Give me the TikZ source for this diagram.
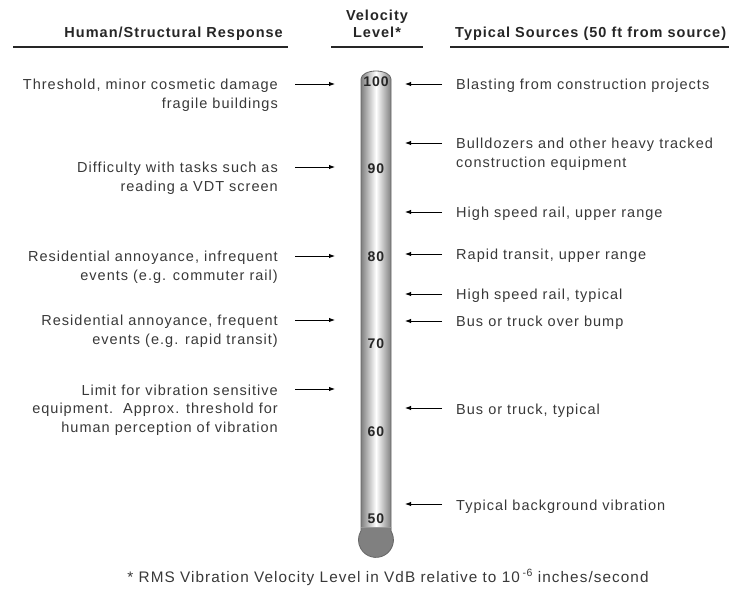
\documentclass[tikz,border=0pt]{standalone}
\usepackage{fontspec}
\setmainfont[LetterSpace=7]{Liberation Sans}
\usetikzlibrary{arrows.meta}

\tikzset{
    bodytext/.style={text=black!78, inner sep=0pt, font=\fontsize{14.5}{18.5}\selectfont},
    lefttext/.style={bodytext, anchor=base east, align=right},
    righttext/.style={bodytext, anchor=base west, align=left},
    headtext/.style={inner sep=0pt, text=black!85, font=\bfseries\fontsize{14.5}{17}\selectfont},
    headline/.style={line width=1.8pt, black!85},
    pointer/.style={line width=0.9pt, -{Latex[length=6pt,width=4.5pt]}},
    levelmark/.style={inner sep=0pt, text=black!85, font=\bfseries\fontsize{14}{14}\selectfont}
}

\begin{document}
\begin{tikzpicture}[x=1pt, y=-1pt]
    \useasboundingbox (0,0) rectangle (731,593);

    % Column headings
    \node[headtext, anchor=base east] (hleft) at (283,38) {Human/Structural Response};
    \node[headtext, anchor=base, align=center] (hmid) at (377,38) {Velocity\\Level*};
    \node[headtext, anchor=base west] (hright) at (455,38) {Typical Sources (50 ft from source)};
    \draw[headline] (13,47) -- (288,47);
    \draw[headline] (331,47) -- (423,47);
    \draw[headline] (450,47) -- (729,47);

    % Thermometer tube
    \shade[left color=black!50, right color=black!50, middle color=white]
        (361,531) -- (361,79) arc[start angle=180, end angle=360, x radius=15, y radius=8] -- (391,531) -- cycle;
    \fill[black!50] (361,527) -- (361,531) arc[start angle=210.6, end angle=-30.6, radius=17.5]
        -- (391,527) -- cycle;
    \draw[black!60, line width=0.8pt] (361,531) -- (361,79)
        arc[start angle=180, end angle=360, x radius=15, y radius=8] -- (391,531);
    \draw[black!60, line width=0.8pt] (391,531) arc[start angle=-30.6, end angle=210.6, radius=17.5];
    \draw[black!40, line width=0.5pt] (361,527) -- (391,527);

    % Scale numbers
    \foreach \v in {50,60,...,100}
        \node[levelmark] (lv\v) at (376,{81.5+(100-\v)*8.75}) {\v};

    % Human/structural response (left)
    \foreach \y/\n/\t in {84/2/{Threshold, minor cosmetic damage\\fragile buildings},
                          167/2/{Difficulty with tasks such as\\reading a VDT screen},
                          256/2/{Residential annoyance, infrequent\\events (e.g. commuter rail)},
                          320/2/{Residential annoyance, frequent\\events (e.g. rapid transit)},
                          389/3/{Limit for vibration sensitive\\equipment.\ \ Approx. threshold for\\human perception of vibration}}
    {
        \node[lefttext] (resp\y) at (278,{\y+6+(\n-1)*18.5}) {\t};
        \coordinate (rs\y) at (295,\y);
        \coordinate (re\y) at (335,\y);
        \draw[pointer] (rs\y) -- (re\y);
    }

    % Typical sources (right)
    \foreach \y/\n/\t in {84/1/{Blasting from construction projects},
                          143/2/{Bulldozers and other heavy tracked\\construction equipment},
                          212/1/{High speed rail, upper range},
                          254/1/{Rapid transit, upper range},
                          294/1/{High speed rail, typical},
                          321/1/{Bus or truck over bump},
                          408/1/{Bus or truck, typical},
                          504/1/{Typical background vibration}}
    {
        \node[righttext] (src\y) at (456,{\y+6+(\n-1)*18.5}) {\t};
        \coordinate (ss\y) at (442,\y);
        \coordinate (se\y) at (405,\y);
        \draw[pointer] (ss\y) -- (se\y);
    }

    % Footnote
    \node[bodytext, anchor=base, font=\fontsize{15.3}{17}\selectfont] (note) at (388,582)
        {* RMS Vibration Velocity Level in VdB relative to 10\,\raisebox{6pt}{\fontsize{10.5}{10.5}\selectfont -6} inches/second};
\end{tikzpicture}
\end{document}
